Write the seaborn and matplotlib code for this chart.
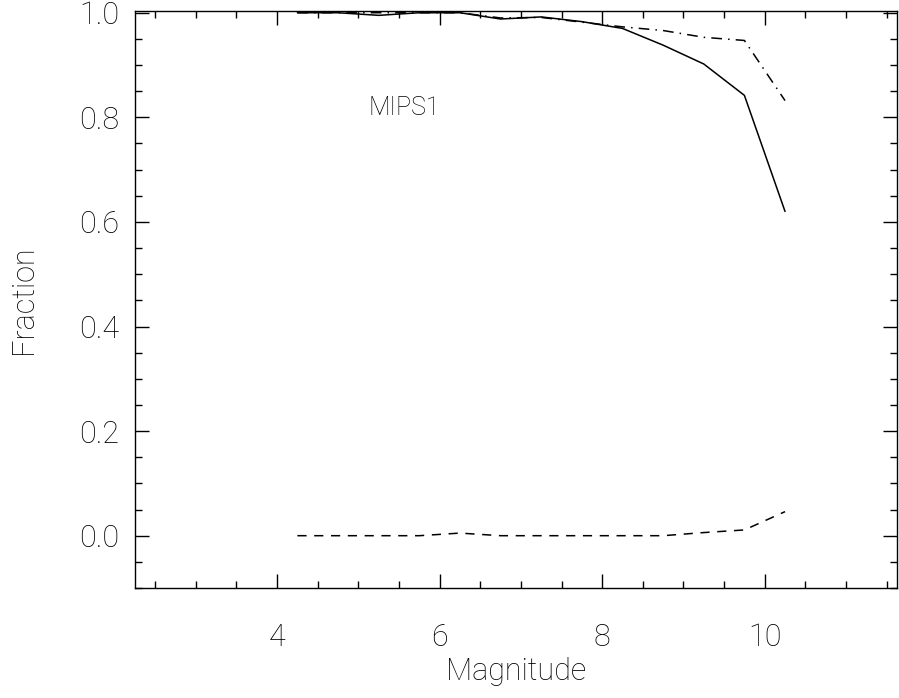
import matplotlib
matplotlib.use("Agg")
import matplotlib.pyplot as plt
import seaborn as sns
import pandas as pd
from matplotlib.ticker import MultipleLocator

magnitude = [4.25, 4.75, 5.25, 5.75, 6.25, 6.75, 7.25, 7.75, 8.25, 8.75, 9.25, 9.75, 10.25]
frac_solid = [1.0, 1.0, 0.995, 1.0, 1.0, 0.988, 0.992, 0.983, 0.970, 0.938, 0.902, 0.842, 0.620]
frac_dashed = [0.0, 0.0, 0.0, 0.0, 0.005, 0.0, 0.0, 0.0, 0.0, 0.0, 0.006, 0.011, 0.046]
frac_dashdot = [1.0, 1.0, 1.0, 1.0, 1.0, 0.990, 0.991, 0.982, 0.973, 0.966, 0.953, 0.947, 0.832]
label_text = "MIPS1"

sns.set_style("ticks")
plt.rcParams['font.family'] = ['Roboto', 'DejaVu Sans']
plt.rcParams['font.weight'] = 'light'
plt.rcParams['axes.labelweight'] = 'light'
plt.rcParams['text.color'] = 'black'
plt.rcParams['xtick.color'] = 'black'
plt.rcParams['ytick.color'] = 'black'
plt.rcParams['axes.labelcolor'] = 'black'

fig = plt.figure(figsize=(8.99, 6.98), dpi=100)
ax = fig.add_axes([0.150, 0.1576, 0.848, 0.8264])

df = pd.DataFrame({"mag": magnitude, "solid": frac_solid,
                   "dashed": frac_dashed, "dashdot": frac_dashdot})

sns.lineplot(data=df, x="mag", y="solid", ax=ax, color="black", lw=1.1)
sns.lineplot(data=df, x="mag", y="dashed", ax=ax, color="black", lw=1.1)
sns.lineplot(data=df, x="mag", y="dashdot", ax=ax, color="black", lw=1.1)
lines = ax.get_lines()
lines[1].set_dashes((6, 5))
lines[2].set_dashes((7, 4, 1, 4))

ax.set_xlim(2.25, 11.63)
ax.set_ylim(-0.1, 1.003)
ax.xaxis.set_minor_locator(MultipleLocator(0.5))
ax.yaxis.set_minor_locator(MultipleLocator(0.05))
ax.set_yticks([0.0, 0.2, 0.4, 0.6, 0.8, 1.0])
ax.set_yticklabels(["0.0", "0.2", "0.4", "0.6", "0.8", "1.0"])
ax.set_xticks([4, 6, 8, 10])
ax.set_xticklabels(["4", "6", "8", "10"])

ax.tick_params(which="both", direction="in", top=True, right=True, width=1.0, color="black")
ax.tick_params(which="major", length=10, labelsize=22)
ax.tick_params(axis="x", which="major", pad=25)
ax.tick_params(axis="y", which="major", pad=11)
ax.tick_params(which="minor", length=5)
for s in ax.spines.values():
    s.set_linewidth(1.0)
    s.set_color("black")

ax.set_xlabel("Magnitude", fontsize=22, fontweight="light")
ax.set_ylabel("Fraction", fontsize=22, fontweight="light")
ax.xaxis.set_label_coords(0.5, -0.12)
ax.yaxis.set_label_coords(-0.127, 0.5)
ax.text(5.12, 0.818, label_text, fontsize=18, fontweight="light", ha="left", va="center")

fig.savefig("out.png", dpi=100)
